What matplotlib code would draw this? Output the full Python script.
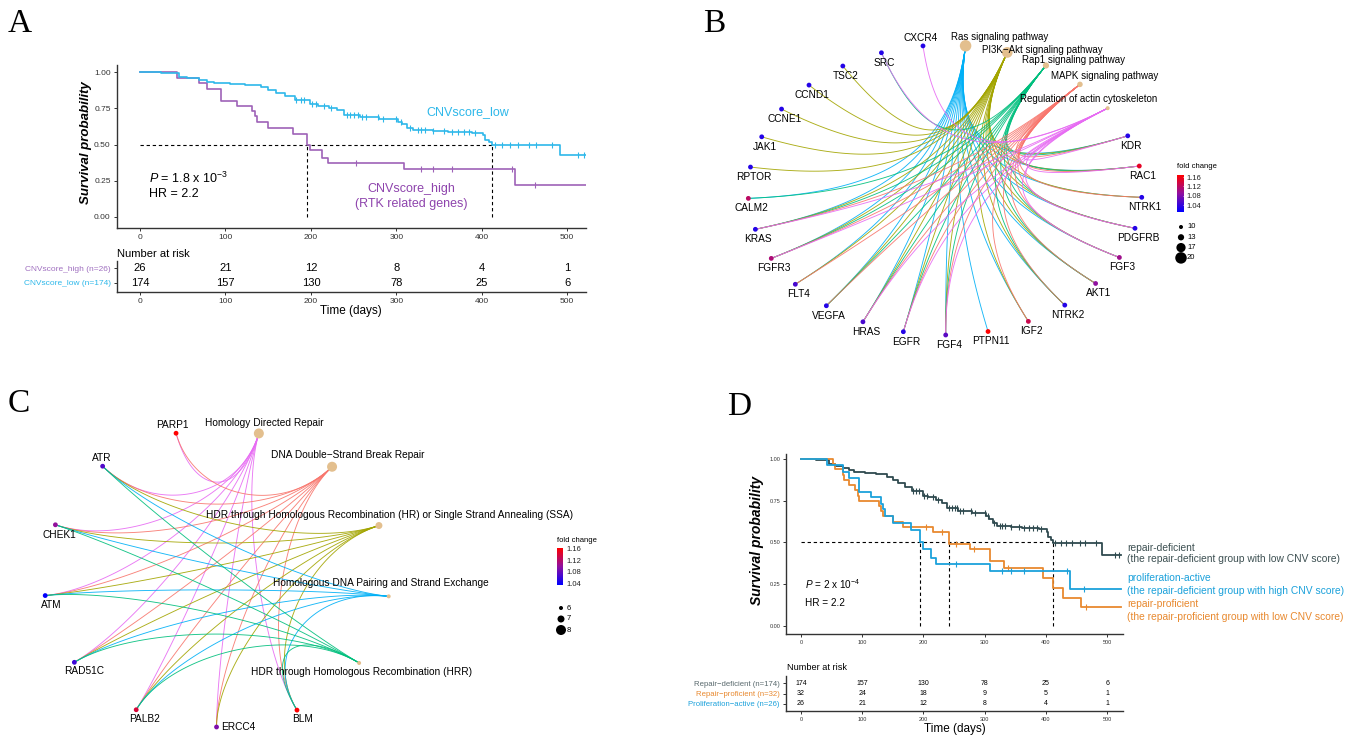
import numpy as np
import matplotlib
matplotlib.use('Agg')
import matplotlib.pyplot as plt
from matplotlib.colors import LinearSegmentedColormap

plt.rcParams['font.family'] = ['Liberation Sans', 'DejaVu Sans']
plt.rcParams['mathtext.fontset'] = 'custom'
plt.rcParams['mathtext.rm'] = 'Liberation Sans'
plt.rcParams['mathtext.it'] = 'Liberation Sans:italic'

# ---------------- data ----------------
# Kaplan-Meier step points (time in days, survival probability)
low_t = [0, 24, 46, 55, 69, 78, 87, 105, 123, 141, 150, 159, 170, 181, 199, 208, 221, 230,
         239, 257, 280, 302, 307, 313, 320, 343, 361, 388, 402, 404, 408, 412, 491]
low_s = [1.0, 0.995, 0.968, 0.959, 0.945, 0.934, 0.925, 0.918, 0.909, 0.895, 0.877, 0.854,
         0.834, 0.809, 0.781, 0.770, 0.754, 0.736, 0.708, 0.690, 0.674, 0.656, 0.640, 0.617,
         0.599, 0.595, 0.588, 0.581, 0.565, 0.535, 0.517, 0.499, 0.426]
low_cens = [183, 188, 192, 201, 206, 215, 224, 242, 246, 251, 255, 260, 264, 278, 284, 300,
            305, 316, 325, 329, 334, 343, 356, 365, 372, 379, 385, 392, 415, 424, 433, 442,
            455, 464, 482, 513, 520]
high_t = [0, 43, 69, 78, 95, 114, 131, 134, 137, 150, 179, 195, 199, 213, 220, 309, 439]
high_s = [1.0, 0.962, 0.925, 0.886, 0.80, 0.77, 0.73, 0.70, 0.656, 0.615, 0.576, 0.50,
          0.46, 0.41, 0.37, 0.33, 0.22]
high_cens = [253, 329, 343, 365, 435, 462]
prof_t = [0, 52, 55, 68, 71, 79, 89, 93, 95, 128, 131, 134, 150, 166, 215, 241, 276, 308,
          331, 395, 412, 428, 457]
prof_s = [1.0, 0.969, 0.938, 0.906, 0.875, 0.844, 0.813, 0.781, 0.75, 0.719, 0.688, 0.656,
          0.625, 0.594, 0.56, 0.49, 0.46, 0.39, 0.35, 0.29, 0.23, 0.17, 0.115]
prof_cens = [205, 231, 254, 282, 338, 466]
t_end = 522

risk_times = [0, 100, 200, 300, 400, 500]
risk_high = [26, 21, 12, 8, 4, 1]
risk_low = [174, 157, 130, 78, 25, 6]
risk_prof = [32, 24, 18, 9, 5, 1]

# Panel B network
B_pathways = ["Ras signaling pathway", "PI3K\u2212Akt signaling pathway", "Rap1 signaling pathway",
              "MAPK signaling pathway", "Regulation of actin cytoskeleton"]
B_counts = [20, 19, 13, 12, 10]
B_genes = ["KDR", "RAC1", "NTRK1", "PDGFRB", "FGF3", "AKT1", "NTRK2", "IGF2", "PTPN11", "FGF4",
           "EGFR", "HRAS", "VEGFA", "FLT4", "FGFR3", "KRAS", "CALM2", "RPTOR", "JAK1", "CCNE1",
           "CCND1", "TSC2", "SRC", "CXCR4"]
B_fc = [1.03, 1.15, 1.03, 1.03, 1.10, 1.09, 1.03, 1.13, 1.17, 1.06, 1.03, 1.05, 1.03, 1.05,
        1.11, 1.03, 1.12, 1.03, 1.03, 1.03, 1.03, 1.03, 1.03, 1.03]
B_members = {
    B_pathways[0]: ["KDR", "RAC1", "NTRK1", "PDGFRB", "FGF3", "AKT1", "NTRK2", "IGF2", "PTPN11",
                    "FGF4", "EGFR", "HRAS", "VEGFA", "FLT4", "FGFR3", "KRAS", "CALM2"],
    B_pathways[1]: ["KDR", "RAC1", "NTRK1", "PDGFRB", "FGF3", "AKT1", "NTRK2", "IGF2", "FGF4",
                    "EGFR", "HRAS", "VEGFA", "FLT4", "FGFR3", "KRAS", "RPTOR", "JAK1", "CCNE1",
                    "CCND1", "TSC2"],
    B_pathways[2]: ["KDR", "RAC1", "PDGFRB", "FGF3", "AKT1", "NTRK2", "FGF4", "EGFR", "HRAS",
                    "VEGFA", "FGFR3", "KRAS", "CALM2", "SRC"],
    B_pathways[3]: ["KDR", "RAC1", "NTRK1", "PDGFRB", "FGF3", "AKT1", "NTRK2", "IGF2", "FGF4",
                    "EGFR", "HRAS", "VEGFA", "FLT4", "FGFR3", "KRAS"],
    B_pathways[4]: ["KDR", "RAC1", "PDGFRB", "FGF3", "FGF4", "EGFR", "HRAS", "FGFR3", "KRAS",
                    "CXCR4", "SRC"],
}
B_size_legend = [10, 13, 17, 20]

# Panel C network
C_pathways = ["Homology Directed Repair", "DNA Double\u2212Strand Break Repair",
              "HDR through Homologous Recombination (HR) or Single Strand Annealing (SSA)",
              "Homologous DNA Pairing and Strand Exchange",
              "HDR through Homologous Recombination (HRR)"]
C_counts = [8, 8, 7, 6, 6]
C_genes = ["BLM", "ERCC4", "PALB2", "RAD51C", "ATM", "CHEK1", "ATR", "PARP1"]
C_fc = [1.17, 1.09, 1.14, 1.06, 1.035, 1.10, 1.07, 1.17]
C_members = {
    C_pathways[0]: C_genes,
    C_pathways[1]: C_genes,
    C_pathways[2]: ["BLM", "ERCC4", "PALB2", "RAD51C", "ATM", "CHEK1", "ATR"],
    C_pathways[3]: ["BLM", "PALB2", "RAD51C", "ATM", "CHEK1", "ATR"],
    C_pathways[4]: ["BLM", "PALB2", "RAD51C", "ATM", "CHEK1", "ATR"],
}
C_size_legend = [6, 7, 8]
fc_ticks = [1.04, 1.08, 1.12, 1.16]

# ---------------- helpers ----------------
W, H = 1362, 738
fig = plt.figure(figsize=(W / 100, H / 100), dpi=100)


def pax(x0, y0, x1, y1):
    return fig.add_axes([x0 / W, 1 - y1 / H, (x1 - x0) / W, (y1 - y0) / H])


def ftext(x, y, s, **kw):
    return fig.text(x / W, 1 - y / H, s, **kw)


def km(ax, t, s, cens, color, lw):
    t = np.asarray(t, float)
    s = np.asarray(s, float)
    ax.step(np.r_[t, t_end], np.r_[s, s[-1]], where='post', color=color, lw=lw, zorder=3)
    c = np.asarray(cens, float)
    cs = s[np.searchsorted(t, c, side='right') - 1]
    ax.plot(c, cs, ls='none', marker='|', ms=5, mew=0.8, color=color, zorder=3)
    return t[np.argmax(s <= 0.5)]


def km_style(ax, fs, ticklen=2.5):
    for sp in ['top', 'right']:
        ax.spines[sp].set_visible(False)
    for sp in ['left', 'bottom']:
        ax.spines[sp].set_linewidth(1.0)
        ax.spines[sp].set_color('#333333')
    ax.tick_params(length=ticklen, width=0.7, labelsize=fs, colors='#333333', pad=2)


def medians(ax, meds):
    dash = (0, (3, 2.5))
    ax.plot([0, max(meds)], [0.5, 0.5], color='black', lw=0.8, ls=dash, zorder=2)
    for m in meds:
        ax.plot([m, m], [0, 0.5], color='black', lw=0.8, ls=dash, zorder=2)


def risk_table(ax, xlim, rows, colors, labels, fs_num, fs_lab, fs_tick):
    ax.set_xlim(*xlim)
    for i, vals in enumerate(rows):
        for tt, v in zip(risk_times, vals):
            ax.text(tt, i, str(v), ha='center', va='center', fontsize=fs_num, color='black')
    ax.set_yticks(range(len(rows)))
    ax.set_yticklabels(labels)
    ax.set_xticks(risk_times)
    km_style(ax, fs_tick)
    ax.tick_params(axis='y', labelsize=fs_lab)
    for tl, col in zip(ax.get_yticklabels(), colors):
        tl.set_color(col)


# colours
c_low = '#2EB8EA'
c_high = '#9E62B8'
c_high_txt = '#8E44AD'
c_def = '#2F4A4F'
c_act = '#1BA1DB'
c_prof = '#E8892F'
hue = {'red': '#F8766D', 'olive': '#A3A500', 'green': '#00BF7D', 'blue': '#00B0F6',
       'pink': '#E76BF3'}
cmap_fc = LinearSegmentedColormap.from_list('fc', ['#0000FF', '#9010A0', '#FF0000'])
path_col = '#E3BF8E'

# ---------------- Panel A ----------------
ftext(8, 32, 'A', fontsize=24, family='Liberation Serif', va='baseline')
axA = pax(117, 65, 586, 228)
axA.set_xlim(-27, 522)
axA.set_ylim(-0.076, 1.05)
mA1 = km(axA, high_t, high_s, high_cens, c_high, 1.2)
mA2 = km(axA, low_t, low_s, low_cens, c_low, 1.2)
medians(axA, [mA1, mA2])
axA.set_xticks(risk_times)
axA.set_yticks([0, 0.25, 0.5, 0.75, 1.0])
axA.set_yticklabels(['0.00', '0.25', '0.50', '0.75', '1.00'])
km_style(axA, 6)
ftext(86, 143, 'Survival probability', rotation=90, ha='center', va='center',
      fontsize=9.5, weight='bold', style='italic')
axA.text(383, 0.724, 'CNVscore_low', color=c_low, fontsize=9, ha='center', va='center')
axA.text(318, 0.193, 'CNVscore_high', color=c_high_txt, fontsize=9, ha='center', va='center')
axA.text(318, 0.09, '(RTK related genes)', color=c_high_txt, fontsize=9, ha='center', va='center')
axA.text(10, 0.27, r'$P$ = 1.8 x 10$^{-3}$', fontsize=9, ha='left', va='center')
axA.text(10, 0.16, 'HR = 2.2', fontsize=9, ha='left', va='center')

axAt = pax(117, 261, 586, 292)
axAt.set_ylim(-0.643, 1.5)
risk_table(axAt, (-27, 522), [risk_low, risk_high], [c_low, '#A070C0'],
           ['CNVscore_low (n=174)', 'CNVscore_high (n=26)'], 8, 6, 6)
ftext(117, 254, 'Number at risk', fontsize=8, ha='left', va='center')
ftext(351, 311, 'Time (days)', fontsize=8.5, ha='center', va='center')

# ---------------- Panel D ----------------
ftext(727, 415, 'D', fontsize=24, family='Liberation Serif', va='baseline')
axD = pax(786, 454, 1123, 634)
axD.set_xlim(-24.5, 526)
axD.set_ylim(-0.048, 1.03)
mD1 = km(axD, low_t, low_s, low_cens, c_def, 1.3)
mD3 = km(axD, prof_t, prof_s, prof_cens, c_prof, 1.3)
mD2 = km(axD, high_t, high_s, high_cens, c_act, 1.3)
medians(axD, [mD2, mD3, mD1])
axD.set_xticks(risk_times)
axD.set_yticks([0, 0.25, 0.5, 0.75, 1.0])
axD.set_yticklabels(['0.00', '0.25', '0.50', '0.75', '1.00'])
km_style(axD, 4, 2)
ftext(757, 540, 'Survival probability', rotation=90, ha='center', va='center',
      fontsize=10, weight='bold', style='italic')
axD.text(6, 0.25, r'$P$ = 2 x 10$^{-4}$', fontsize=7.2, ha='left', va='center')
axD.text(6, 0.14, 'HR = 2.2', fontsize=7.2, ha='left', va='center')
for y, s, c in [(548, 'repair-deficient', '#3D5052'),
                (559.5, '(the repair-deficient group with low CNV score)', '#3D5052'),
                (578, 'proliferation-active', c_act),
                (591.5, '(the repair-deficient group with high CNV score)', c_act),
                (604, 'repair-proficient', c_prof),
                (617, '(the repair-proficient group with low CNV score)', c_prof)]:
    ftext(1127, y, s, color=c, fontsize=7.4, ha='left', va='center')

axDt = pax(786, 676, 1123, 711)
axDt.set_ylim(-0.667, 2.667)
risk_table(axDt, (-24.5, 526), [risk_high, risk_prof, risk_low],
           [c_act, c_prof, '#5A6A6E'],
           ['Proliferation\u2212active (n=26)', 'Repair\u2212proficient (n=32)',
            'Repair\u2212deficient (n=174)'], 5, 5.6, 4)
ftext(787, 668, 'Number at risk', fontsize=6.6, ha='left', va='center')
ftext(955, 729, 'Time (days)', fontsize=8.5, ha='center', va='center')


# ---------------- networks ----------------
def draw_network(ax, pathways, counts, ecols, genes, fc, members, start_deg, vmin, vmax,
                 size_fn, gene_off, path_off, fs_gene, fs_path, pull):
    names = pathways + genes
    n = len(names)
    ang = np.deg2rad(start_deg - np.arange(n) * 360.0 / n)
    pos = {nm: np.array([np.cos(a), np.sin(a)]) for nm, a in zip(names, ang)}
    tt = np.linspace(0, 1, 80)[:, None]
    for p, col in zip(pathways, ecols):
        for g in members[p]:
            P0, P3 = pos[g], pos[p]
            P1, P2 = P0 * (1 - pull), P3 * (1 - pull)
            P = ((1 - tt) ** 3 * P0 + 3 * (1 - tt) ** 2 * tt * P1 +
                 3 * (1 - tt) * tt ** 2 * P2 + tt ** 3 * P3)
            ax.plot(P[:, 0], P[:, 1], color=col, lw=0.65, alpha=0.9, zorder=1)
    gx = [pos[g][0] for g in genes]
    gy = [pos[g][1] for g in genes]
    ax.scatter(gx, gy, s=(4.8 * 0.72) ** 2, c=fc, cmap=cmap_fc, vmin=vmin, vmax=vmax,
               linewidths=0, zorder=3)
    px_ = [pos[p][0] for p in pathways]
    py_ = [pos[p][1] for p in pathways]
    ax.scatter(px_, py_, s=[(size_fn(c) * 0.72) ** 2 for c in counts], c=path_col,
               linewidths=0, zorder=3)
    for g, a in zip(genes, ang):
        dx, dy, ha = gene_off(g, np.rad2deg(a))
        ax.annotate(g, pos[g], xytext=(dx * 0.72, -dy * 0.72), textcoords='offset points',
                    ha=ha, va='center', fontsize=fs_gene, zorder=4)
    for p, (dx, dy) in zip(pathways, path_off):
        ax.annotate(p, pos[p], xytext=(dx * 0.72, -dy * 0.72), textcoords='offset points',
                    ha='left', va='center', fontsize=fs_path, zorder=4)
    ax.axis('off')


def draw_legend(x0, y0, vmin, vmax, size_vals, size_fn, dot_y0, dot_dy):
    ftext(x0, y0, 'fold change', fontsize=5.5, ha='left', va='center')
    top = y0 + 8
    hbar = 37
    cax = pax(x0, top, x0 + 6, top + hbar)
    cax.imshow(np.linspace(vmin, vmax, 200)[:, None], aspect='auto', cmap=cmap_fc,
               origin='lower', extent=[0, 1, vmin, vmax])
    cax.set_xlim(0, 1)
    cax.set_ylim(vmin, vmax)
    cax.set_xticks([])
    cax.yaxis.tick_right()
    cax.set_yticks(fc_ticks)
    cax.set_yticklabels(['%.2f' % v for v in fc_ticks])
    cax.tick_params(axis='y', length=1.5, width=0.5, colors='white', labelsize=5.5,
                    labelcolor='#222222', pad=1)
    for sp in cax.spines.values():
        sp.set_visible(False)
    sax = pax(x0 - 2, dot_y0 - 8, x0 + 30, dot_y0 + dot_dy * len(size_vals) + 4)
    sax.set_xlim(x0 - 2, x0 + 30)
    sax.set_ylim(dot_y0 + dot_dy * len(size_vals) + 4, dot_y0 - 8)
    ys = dot_y0 + dot_dy * np.arange(len(size_vals))
    sax.scatter([x0 + 4] * len(size_vals), ys, s=[(size_fn(v) * 0.72) ** 2 for v in size_vals],
                c='black', linewidths=0)
    for v, y in zip(size_vals, ys):
        sax.text(x0 + 10, y, str(v), fontsize=5.5, ha='left', va='center')
    sax.axis('off')


# ---------------- Panel B ----------------
ftext(703, 32, 'B', fontsize=24, family='Liberation Serif', va='baseline')
axB = pax(700, 0, 1362, 370)
cxB, cyB, rxB, ryB = 945, 190, 197, 145
axB.set_xlim((700 - cxB) / rxB, (1362 - cxB) / rxB)
axB.set_ylim((cyB - 370) / ryB, (cyB - 0) / ryB)
sizeB = lambda c: 4 + 0.75 * (c - 10)


def gene_off_B(g, deg):
    deg = (deg + 180) % 360 - 180
    if 95 < deg < 165:
        return (-2, -8, 'center')
    return (3, 10, 'center')


draw_network(axB, B_pathways, B_counts,
             [hue['blue'], hue['olive'], hue['green'], hue['red'], hue['pink']],
             B_genes, B_fc, B_members, 84, 1.01, 1.169, sizeB,
             gene_off_B, [(-15, -9), (-25, -2), (-24, -5), (-29, -8), (-88, -9)], 7.3, 7.0,
             pull=0.72)
draw_legend(1177, 167, 1.01, 1.169, B_size_legend, sizeB, 227, 10.3)

# ---------------- Panel C ----------------
ftext(8, 412, 'C', fontsize=24, family='Liberation Serif', va='baseline')
axC = pax(0, 370, 700, 738)
cxC, cyC, rxC, ryC = 217, 578, 173, 149
axC.set_xlim((0 - cxC) / rxC, (700 - cxC) / rxC)
axC.set_ylim((cyC - 738) / ryC, (cyC - 370) / ryC)
sizeC = lambda c: 4 + 3 * (c - 6)
C_lab = {"PARP1": (-4, -8, 'center'), "ATR": (-1, -8, 'center'), "CHEK1": (4, 10, 'center'),
         "ATM": (6, 9, 'center'), "RAD51C": (10, 9, 'center'), "PALB2": (8, 9, 'center'),
         "ERCC4": (5, 0, 'left'), "BLM": (6, 9, 'center')}
draw_network(axC, C_pathways, C_counts,
             [hue['pink'], hue['red'], hue['olive'], hue['blue'], hue['green']],
             C_genes, C_fc, C_members, 76, 1.033, 1.163, sizeC,
             lambda g, d: C_lab[g],
             [(-54, -10), (-61, -12), (-173, -11), (-116, -13), (-108, 9)], 7.3, 7.3,
             pull=0.45)
draw_legend(557, 540, 1.033, 1.163, C_size_legend, sizeC, 608, 11)

fig.savefig('out.png', dpi=100)
